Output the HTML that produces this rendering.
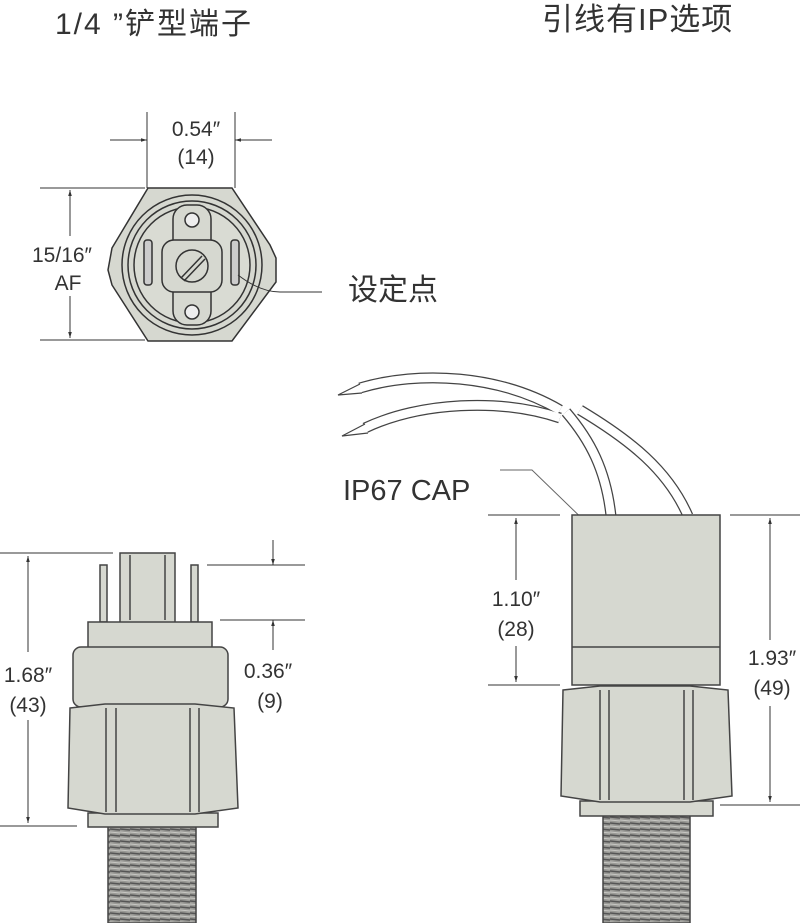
<!DOCTYPE html>
<html><head><meta charset="utf-8"><style>
body{margin:0;background:#fff}
svg{display:block}
text{font-family:"Liberation Sans","Noto Sans CJK SC",sans-serif;fill:#333}
</style></head><body>
<svg width="800" height="923" viewBox="0 0 800 923" xmlns="http://www.w3.org/2000/svg">
<defs>
<marker id="a" viewBox="0 0 10 10" refX="10" refY="5" markerWidth="6" markerHeight="6" orient="auto-start-reverse"><path d="M0,2L10,5L0,8z" fill="#333"/></marker>
<pattern id="th" width="10" height="6" patternUnits="userSpaceOnUse"><rect width="10" height="6" fill="#9a9a96"/><path d="M0,1L10,2" stroke="#555" stroke-width="1.6"/><path d="M0,4L10,5" stroke="#c8c8c4" stroke-width="1"/></pattern>
</defs>
<text x="55" y="34" font-size="30" letter-spacing="2">1/4 ”铲型端子</text>
<text x="542" y="30" font-size="31" letter-spacing="1">引线有IP选项</text>

<!-- top view -->
<g stroke="#333" stroke-width="1" fill="none">
<line x1="147" y1="112" x2="147" y2="188"/><line x1="235" y1="112" x2="235" y2="188"/>
<line x1="110" y1="140" x2="147" y2="140" marker-end="url(#a)"/>
<line x1="272" y1="140" x2="235" y2="140" marker-end="url(#a)"/>
<line x1="40" y1="188" x2="145" y2="188"/><line x1="40" y1="340" x2="145" y2="340"/>
<line x1="70" y1="190" x2="70" y2="338" marker-start="url(#a)" marker-end="url(#a)"/>
</g>
<rect x="40" y="236" width="60" height="60" fill="#fff"/>
<text x="196" y="136" font-size="21" text-anchor="middle">0.54″</text>
<text x="196" y="164" font-size="21" text-anchor="middle">(14)</text>
<text x="62" y="262" font-size="21" text-anchor="middle">15/16″</text>
<text x="68" y="290" font-size="21" text-anchor="middle">AF</text>
<g stroke="#333" stroke-width="1.5">
<path d="M148,188 L232,188 L270,245 L276,258 L276,282 L232,341 L148,341 L112,285 L108,270 L112,248 Z" fill="#d6d8d0"/>
<circle cx="192" cy="265" r="70" fill="#d6d8d0"/>
<circle cx="192" cy="265" r="64" fill="none"/>
<circle cx="192" cy="265" r="58" fill="#d9dbd3"/>
<rect x="173" y="205" width="38" height="120" rx="14" fill="#d6d8d0"/>
<circle cx="192" cy="220" r="7" fill="#eee"/><circle cx="192" cy="312" r="7" fill="#eee"/>
<rect x="162" y="240" width="60" height="52" rx="12" fill="#d6d8d0"/>
<circle cx="192" cy="266" r="16" fill="#d6d8d0"/>
<line x1="181" y1="278" x2="202" y2="256"/><line x1="184" y1="281" x2="205" y2="259"/>
<rect x="144" y="240" width="8" height="45" rx="3" fill="#ccc"/>
<rect x="231" y="240" width="8" height="45" rx="3" fill="#ccc"/>
<path d="M238,275 Q260,292 280,292 L322,292" fill="none" stroke-width="1"/>
</g>
<text x="348" y="300" font-size="30">设定点</text>

<!-- left side view -->
<g stroke="#333" stroke-width="1">
<line x1="0" y1="553" x2="113" y2="553"/><line x1="0" y1="826" x2="77" y2="826"/>
<line x1="28" y1="556" x2="28" y2="823" marker-start="url(#a)" marker-end="url(#a)"/>
<line x1="207" y1="565" x2="305" y2="565"/><line x1="220" y1="620" x2="305" y2="620"/>
<line x1="273" y1="540" x2="273" y2="565" marker-end="url(#a)"/>
<line x1="273" y1="650" x2="273" y2="620" marker-end="url(#a)"/>
</g>
<rect x="0" y="652" width="58" height="68" fill="#fff"/>
<text x="28" y="682" font-size="21" text-anchor="middle">1.68″</text>
<text x="28" y="712" font-size="21" text-anchor="middle">(43)</text>
<text x="268" y="678" font-size="21" text-anchor="middle">0.36″</text>
<text x="270" y="708" font-size="21" text-anchor="middle">(9)</text>
<g stroke="#444" stroke-width="1.5" fill="#d6d8d0">
<rect x="100" y="565" width="7" height="57"/><rect x="191" y="565" width="7" height="57"/>
<rect x="120" y="553" width="55" height="70"/><line x1="130" y1="555" x2="130" y2="620"/><line x1="165" y1="555" x2="165" y2="620"/>
<rect x="88" y="622" width="124" height="27"/>
<rect x="73" y="647" width="155" height="60" rx="8"/>
<rect x="108" y="826" width="88" height="97" fill="url(#th)"/>
<rect x="88" y="813" width="130" height="14"/>
<path d="M70,708 L105,704 L195,704 L234,708 L238,808 L195,814 L105,814 L68,808 Z"/>
<line x1="106" y1="708" x2="106" y2="812"/><line x1="116" y1="708" x2="116" y2="812"/>
<line x1="190" y1="708" x2="190" y2="812"/><line x1="199" y1="708" x2="199" y2="812"/>
</g>

<!-- right side view -->
<g stroke="#333" stroke-width="1">
<line x1="488" y1="515" x2="560" y2="515"/><line x1="488" y1="685" x2="560" y2="685"/>
<line x1="516" y1="518" x2="516" y2="682" marker-start="url(#a)" marker-end="url(#a)"/>
<line x1="730" y1="515" x2="800" y2="515"/><line x1="720" y1="805" x2="800" y2="805"/>
<line x1="770" y1="518" x2="770" y2="802" marker-start="url(#a)" marker-end="url(#a)"/>
</g>
<rect x="488" y="580" width="56" height="66" fill="#fff"/>
<rect x="742" y="640" width="58" height="66" fill="#fff"/>
<text x="516" y="606" font-size="21" text-anchor="middle">1.10″</text>
<text x="516" y="636" font-size="21" text-anchor="middle">(28)</text>
<text x="772" y="665" font-size="21" text-anchor="middle">1.93″</text>
<text x="772" y="695" font-size="21" text-anchor="middle">(49)</text>
<text x="343" y="500" font-size="29">IP67 CAP</text>
<g fill="none" stroke-linecap="butt">
<g stroke="#444" stroke-width="11">
<path d="M611,516 C606,470 590,440 566,412"/>
<path d="M688,516 C668,470 630,440 580,410"/>
<path d="M560,410 C500,375 420,370 360,388"/>
<path d="M560,418 C500,398 420,402 365,428"/>
</g>
<g stroke="#fff" stroke-width="8.5">
<path d="M611,516 C606,470 590,440 566,412"/>
<path d="M688,516 C668,470 630,440 580,410"/>
<path d="M560,410 C500,375 420,370 360,388"/>
<path d="M560,418 C500,398 420,402 365,428"/>
</g>
<path d="M360,384 L338,395 L362,393" stroke="#444" stroke-width="1.2" fill="#fff"/>
<path d="M365,424 L342,436 L368,433" stroke="#444" stroke-width="1.2" fill="#fff"/>
<path d="M500,470 L532,470 L596,532" stroke="#666" stroke-width="1"/>
</g>
<g stroke="#444" stroke-width="1.5" fill="#d6d8d0">
<rect x="572" y="515" width="148" height="170"/>
<line x1="572" y1="647" x2="720" y2="647"/>
<rect x="603" y="815" width="87" height="108" fill="url(#th)"/>
<rect x="580" y="801" width="133" height="15"/>
<path d="M563,690 L600,686 L690,686 L728,690 L732,796 L690,802 L600,802 L561,796 Z"/>
<line x1="600" y1="690" x2="600" y2="800"/><line x1="609" y1="690" x2="609" y2="800"/>
<line x1="684" y1="690" x2="684" y2="800"/><line x1="693" y1="690" x2="693" y2="800"/>
</g>
</svg>
</body></html>
